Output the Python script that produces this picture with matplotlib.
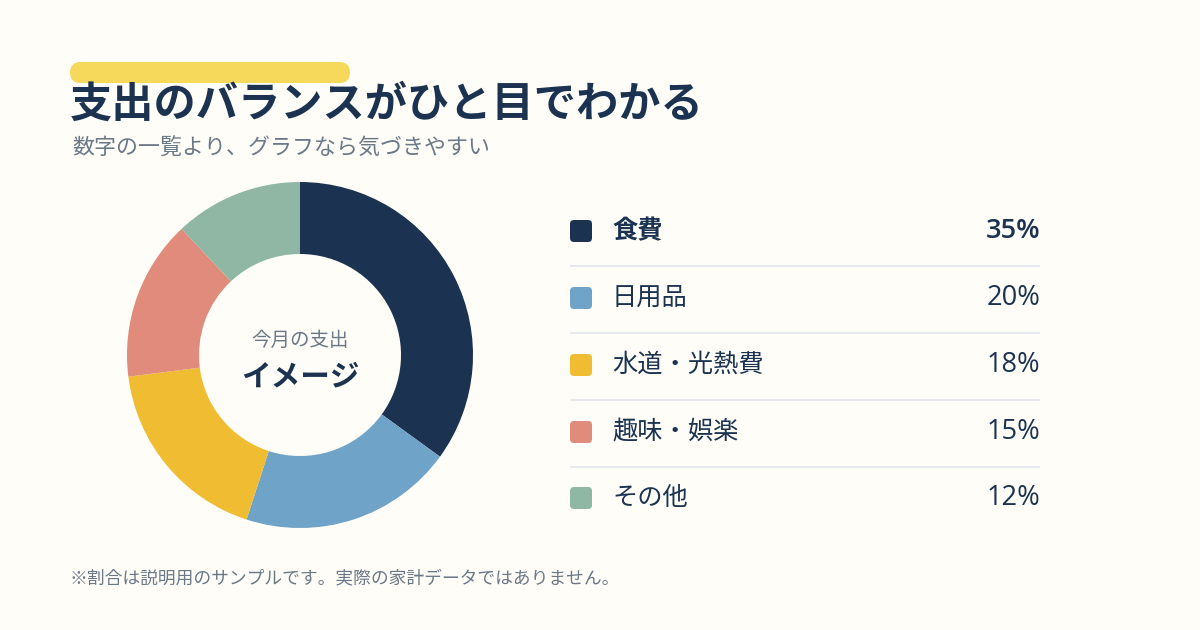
import matplotlib.pyplot as plt
from matplotlib.patches import FancyBboxPatch

plt.rcParams['font.family'] = ['Noto Sans CJK JP', 'DejaVu Sans']

# Data
categories = ["食費", "日用品", "水道・光熱費", "趣味・娯楽", "その他"]
shares = [35, 20, 18, 15, 12]
colors = ['#1B3350', '#6FA3C7', '#F0BC32', '#E08B7B', '#90B7A3']

title = "支出のバランスがひと目でわかる"
subtitle = "数字の一覧より、グラフなら気づきやすい"
center_top = "今月の支出"
center_main = "イメージ"
footnote = "※割合は説明用のサンプルです。実際の家計データではありません。"

bg = '#FFFDF8'
navy = '#1B3350'
gray = '#6B7886'

W, H = 1200, 630
fig = plt.figure(figsize=(12, 6.3), dpi=100, facecolor=bg)

# Overlay axes in pixel coordinates for text and decoration
ax = fig.add_axes([0, 0, 1, 1])
ax.set_xlim(0, W)
ax.set_ylim(H, 0)
ax.axis('off')

# Yellow accent bar
ax.add_patch(FancyBboxPatch((70, 62), 280, 21, boxstyle="round,pad=0,rounding_size=10.5",
                            fc='#F6D95B', ec='none'))

ax.text(70, 105, title, fontsize=30.4, fontweight='bold', color=navy, va='center', ha='left')
ax.text(72, 149, subtitle, fontsize=15.8, color=gray, va='center', ha='left')
ax.text(70, 578, footnote, fontsize=12.8, color=gray, va='center', ha='left')

# Donut chart
cx, cy, r = 300, 355, 173
pax = fig.add_axes([(cx - r) / W, (H - cy - r) / H, 2 * r / W, 2 * r / H])
pax.pie(shares, colors=colors, startangle=90, counterclock=False,
        wedgeprops=dict(width=72 / 173, edgecolor='none', linewidth=0))
pax.set_aspect('equal')
pax.set_xlim(-1, 1)
pax.set_ylim(-1, 1)
pax.axis('off')

ax.text(cx, 340, center_top, fontsize=14, color=gray, ha='center', va='center')
ax.text(cx, 376, center_main, fontsize=21.3, fontweight='bold', color=navy, ha='center', va='center')

# Legend rows
row_y = [231, 298, 365, 432, 498]
for i, (cat, val, col) in enumerate(zip(categories, shares, colors)):
    y = row_y[i]
    ax.add_patch(FancyBboxPatch((570, y - 11), 22, 22, boxstyle="round,pad=0,rounding_size=4",
                                fc=col, ec='none'))
    weight = 'bold' if i == 0 else 'normal'
    ax.text(612, y, cat, fontsize=18.2, fontweight=weight, color=navy, ha='left', va='center')
    ax.text(1040, y, f"{val}%", fontsize=19.6, fontweight='semibold' if i == 0 else 'normal',
            color=navy, ha='right', va='center', family=['Open Sans', 'DejaVu Sans'])
    if i < len(categories) - 1:
        ax.plot([570, 1040], [y + 35, y + 35], color='#E6EAEE', lw=1.5, solid_capstyle='butt')

fig.savefig('out.png', dpi=100, facecolor=bg)
